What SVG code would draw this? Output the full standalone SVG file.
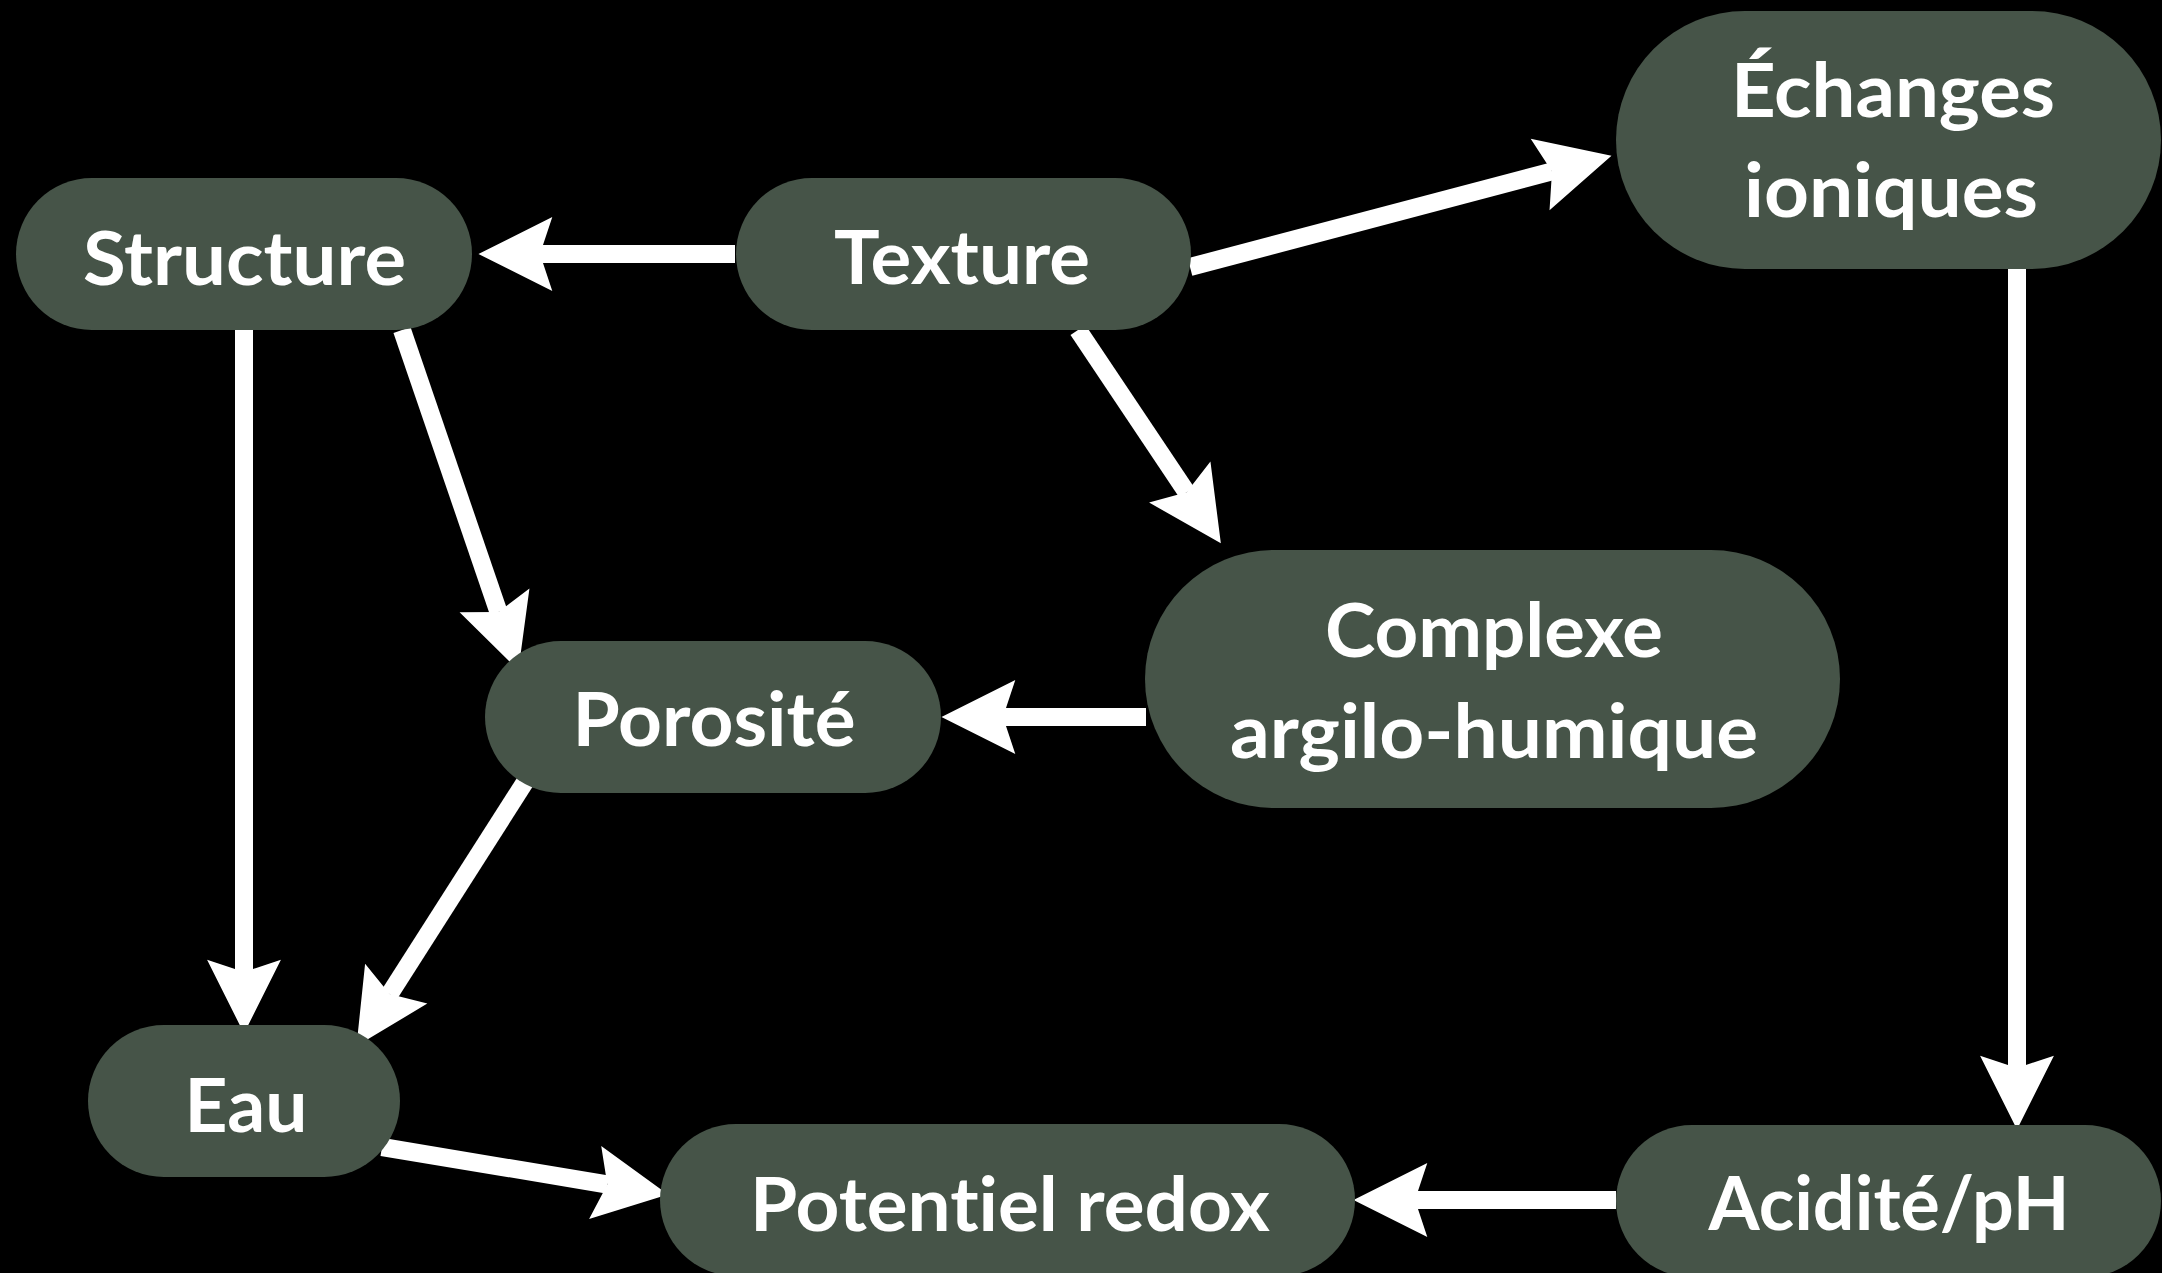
<svg xmlns="http://www.w3.org/2000/svg" width="2162" height="1273" viewBox="0 0 2162 1273">
<style>
.node rect { fill: #465448; }
.node text { fill: #ffffff; font-family: Lato, "Open Sans", "Noto Sans", sans-serif; font-weight: 700; font-size: 74px; text-anchor: middle; font-variant-ligatures: none; font-feature-settings: "liga" 0, "clig" 0, "dlig" 0; }
.edge { stroke: #ffffff; stroke-width: 18; fill: none; marker-end: url(#ah); }
</style>
<defs>
<marker id="ah" markerUnits="userSpaceOnUse" markerWidth="80" markerHeight="80" viewBox="-14 -38 78 76" refX="0" refY="0" orient="auto" overflow="visible">
<path d="M60,0 L-12,-36 L0,0 L-12,36 Z" fill="#ffffff"/>
</marker>
</defs>
<rect x="0" y="0" width="2162" height="1273" fill="#000000"/>
<g id="connectors">
<line class="edge" x1="735" y1="254" x2="540" y2="254"/>
<line class="edge" x1="1190" y1="267" x2="1552" y2="171.4"/>
<line class="edge" x1="1078" y1="330" x2="1186.6" y2="492.2"/>
<line class="edge" x1="402" y1="330" x2="498.5" y2="612"/>
<line class="edge" x1="244" y1="330" x2="244" y2="972"/>
<line class="edge" x1="525" y1="782" x2="389.6" y2="994.1"/>
<line class="edge" x1="382" y1="1147" x2="607.3" y2="1184.5"/>
<line class="edge" x1="1146" y1="717" x2="1003" y2="717"/>
<line class="edge" x1="2017" y1="269" x2="2017" y2="1068"/>
<line class="edge" x1="1616" y1="1200" x2="1415" y2="1200"/>
</g>
<g id="node-structure" class="node">
<rect x="16" y="178" width="456" height="152" rx="76"/>
<text x="244.5" y="285" textLength="323" lengthAdjust="spacingAndGlyphs">Structure</text>
</g>
<g id="node-texture" class="node">
<rect x="736" y="178" width="455" height="152" rx="76"/>
<text x="962" y="284" textLength="256" lengthAdjust="spacingAndGlyphs">Texture</text>
</g>
<g id="node-echanges" class="node">
<rect x="1616" y="11" width="545" height="258" rx="129"/>
<text x="1893" y="117" textLength="324" lengthAdjust="spacingAndGlyphs">Échanges</text>
<text x="1891" y="217" textLength="294" lengthAdjust="spacingAndGlyphs">ioniques</text>
</g>
<g id="node-complexe" class="node">
<rect x="1145" y="550" width="695" height="258" rx="129"/>
<text x="1494" y="657" textLength="338" lengthAdjust="spacingAndGlyphs">Complexe</text>
<text x="1494" y="758" textLength="528" lengthAdjust="spacingAndGlyphs">argilo-humique</text>
</g>
<g id="node-porosite" class="node">
<rect x="485" y="641" width="456" height="152" rx="76"/>
<text x="714" y="746" textLength="283" lengthAdjust="spacingAndGlyphs">Porosité</text>
</g>
<g id="node-eau" class="node">
<rect x="88" y="1025" width="312" height="152" rx="76"/>
<text x="246" y="1132" textLength="123" lengthAdjust="spacingAndGlyphs">Eau</text>
</g>
<g id="node-potentiel" class="node">
<rect x="660" y="1124" width="695" height="152" rx="76"/>
<text x="1010" y="1231" textLength="520" lengthAdjust="spacingAndGlyphs">Potentiel redox</text>
</g>
<g id="node-acidite" class="node">
<rect x="1616" y="1125" width="545" height="152" rx="76"/>
<text x="1889" y="1230" textLength="361" lengthAdjust="spacingAndGlyphs">Acidité/pH</text>
</g>
</svg>
